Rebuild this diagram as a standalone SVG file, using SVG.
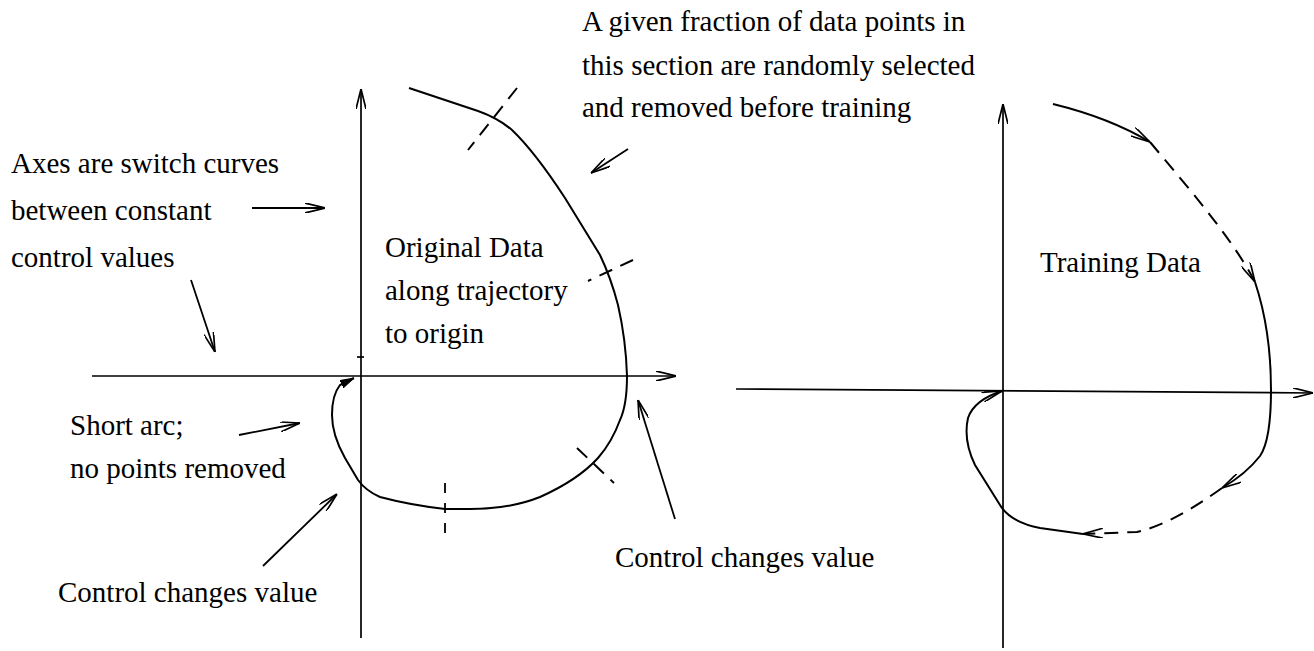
<svg xmlns="http://www.w3.org/2000/svg" width="1314" height="651" viewBox="0 0 1314 651">
<style>
text{font-family:"Liberation Serif","Times New Roman",serif;font-size:29px;fill:#000}
.ax{fill:none;stroke:#000;stroke-width:1.7}
.cv{fill:none;stroke:#000;stroke-width:2}
.ds{fill:none;stroke:#000;stroke-width:2;stroke-dasharray:14 9}
.dt{fill:none;stroke:#000;stroke-width:1.8;stroke-dasharray:10 10}
.pt{fill:none;stroke:#000;stroke-width:1.8}
</style>
<defs>
<marker id="ah" viewBox="0 0 20 10" refX="20" refY="5" markerWidth="20" markerHeight="10" markerUnits="userSpaceOnUse" orient="auto">
<path d="M0,0 L20,5 L0,10" fill="none" stroke="#000" stroke-width="1.7"/>
</marker>
<marker id="ahf" viewBox="0 0 14 10" refX="14" refY="5" markerWidth="14" markerHeight="10" markerUnits="userSpaceOnUse" orient="auto">
<path d="M0,1 L14,5 L0,9 Z" fill="#000" stroke="#000" stroke-width="1"/>
</marker>
</defs>

<g id="left-panel">
<g id="left-axes">
<line class="ax" x1="361" y1="638" x2="361" y2="89" marker-end="url(#ah)"/>
<line class="ax" x1="92" y1="376" x2="676" y2="376" marker-end="url(#ah)"/>
<line class="ax" x1="357" y1="357" x2="364" y2="357"/>
</g>
<g id="left-trajectory">
<path class="cv" d="M409,88 L478,111 Q498,118 512,130 Q535,152 565,198 L600,255 Q611,278 618,305 Q626,340 627,376 Q627,405 620,420 Q612,442 598,458 Q578,480 540,497 Q510,509 470,509 L445,509 Q410,505 380,497 Q366,491 358,480 L345,458 Q332,435 332,415 Q332,395 340,385 L354,378" marker-end="url(#ahf)"/>
</g>
<g id="left-section-marks">
<line class="ds" x1="517" y1="88" x2="468" y2="150"/>
<line class="ds" x1="633" y1="260" x2="588" y2="281"/>
<line class="dt" x1="445" y1="483" x2="445" y2="543"/>
<line class="ds" x1="577" y1="448" x2="614" y2="483"/>
</g>
</g>

<g id="right-panel">
<g id="right-axes">
<line class="ax" x1="1003" y1="648" x2="1003" y2="104" marker-end="url(#ah)"/>
<line class="ax" x1="736" y1="389" x2="1313" y2="393" marker-end="url(#ah)"/>
</g>
<g id="right-trajectory">
<path class="cv" d="M1053,104 Q1110,118 1150,142" marker-end="url(#ah)"/>
<path class="ds" d="M1150,142 C1190,190 1232,238 1255,282" marker-end="url(#ah)"/>
<path class="cv" d="M1255,282 Q1271,330 1271,390 Q1271,440 1260,456 Q1246,474 1222,488" marker-end="url(#ah)"/>
<path class="ds" d="M1222,488 Q1172,524 1137,532 L1083,534" marker-end="url(#ah)"/>
<path class="cv" d="M1083,534 L1040,528 Q1010,522 1000,505 L975,465 Q963,440 968,418 Q974,400 1002,391" marker-end="url(#ah)"/>
</g>
</g>

<g id="connectors">
<line class="pt" x1="252" y1="208" x2="325" y2="208" marker-end="url(#ah)"/>
<line class="pt" x1="191" y1="280" x2="215" y2="352" marker-end="url(#ah)"/>
<line class="pt" x1="628" y1="149" x2="591" y2="173" marker-end="url(#ah)"/>
<line class="pt" x1="239" y1="435" x2="300" y2="423" marker-end="url(#ah)"/>
<line class="pt" x1="263" y1="566" x2="337" y2="494" marker-end="url(#ah)"/>
<line class="pt" x1="675" y1="519" x2="638" y2="400" marker-end="url(#ah)"/>
</g>

<g id="label-fraction">
<text x="582" y="31">A given fraction of data points in</text>
<text x="582" y="75">this section are randomly selected</text>
<text x="582" y="117">and removed before training</text>
</g>
<g id="label-axes">
<text x="11" y="173">Axes are switch curves</text>
<text x="11" y="220">between constant</text>
<text x="11" y="267">control values</text>
</g>
<g id="label-original">
<text x="385" y="257">Original Data</text>
<text x="385" y="300">along trajectory</text>
<text x="385" y="343">to origin</text>
</g>
<g id="label-training">
<text x="1040" y="272">Training Data</text>
</g>
<g id="label-short-arc">
<text x="70" y="435">Short arc;</text>
<text x="70" y="478">no points removed</text>
</g>
<g id="label-control-left">
<text x="58" y="602">Control changes value</text>
</g>
<g id="label-control-right">
<text x="615" y="567">Control changes value</text>
</g>
</svg>
